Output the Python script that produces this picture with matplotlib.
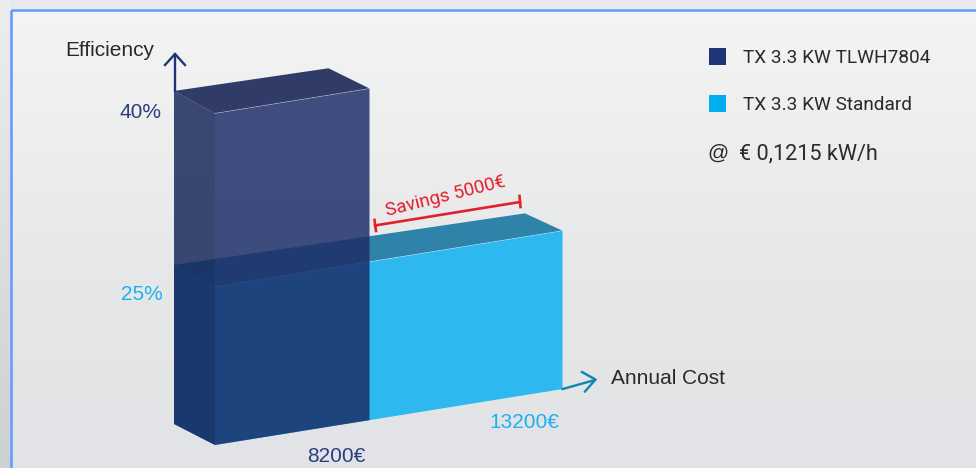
# -*- coding: utf-8 -*-
import numpy as np
import matplotlib
matplotlib.use("Agg")
import matplotlib.pyplot as plt
from matplotlib.patches import Polygon, Rectangle

plt.rcParams['font.family'] = ['Liberation Sans', 'DejaVu Sans']
NARROW = ['Roboto', 'Liberation Sans']

# values
names = ['TX 3.3 KW TLWH7804', 'TX 3.3 KW Standard']
costs = [8200, 13200]
efficiency = [40, 25]
cost_labels = ['8200€', '13200€']
eff_labels = ['40%', '25%']

COST_START = 4174
EFF_START = 11.29


def project(cost, eff, back=False):
    # oblique drawing: cost runs along the rising floor line, efficiency goes up
    if back:
        x = np.interp(cost, [COST_START, 8200, 13200], [174, 328.5, 525])
        y = 424 - 0.147 * (x - 174)
        return x, y - (eff - EFF_START) * 11.6
    x = np.interp(cost, [COST_START, 8200, 13200], [215, 369.5, 562.5])
    y = 445 - 0.161 * (x - 215)
    return x, y - (eff - EFF_START) * 11.55


def draw_bar(ax, cost, eff, front_c, side_c, top_c, alpha=1.0, zorder=3):
    low, high = EFF_START, eff
    side = [project(COST_START, low, True), project(COST_START, high, True),
            project(COST_START, high), project(COST_START, low)]
    top = [project(COST_START, high, True), project(cost, high, True),
           project(cost, high), project(COST_START, high)]
    front = [project(COST_START, low), project(COST_START, high),
             project(cost, high), project(cost, low)]
    for pts, c in [(side, side_c), (top, top_c), (front, front_c)]:
        ax.add_patch(Polygon(pts, closed=True, fc=c, ec='none', alpha=alpha, zorder=zorder))
    # thin pale edge along the top of the front face
    ax.plot(*zip(project(COST_START, high), project(cost, high)), color='white',
            lw=0.5, alpha=0.45, zorder=zorder + 0.5)


fig = plt.figure(figsize=(9.76, 4.68), dpi=100)
ax = fig.add_axes([0, 0, 1, 1])

# page background, darker to the left, panel gradient inside the frame
outer = np.linspace(0, 1, 468).reshape(-1, 1, 1)
outer_c = (1 - outer) * np.array([0.925, 0.93, 0.935]) + outer * np.array([0.805, 0.815, 0.825])
ax.imshow(outer_c, extent=[0, 976, 468, 0], aspect='auto', zorder=0)
ax.add_patch(Rectangle((10, 0), 966, 9, fc='#E8E9EB', ec='none', zorder=0.5))
panel_y = np.linspace(0, 1, 468)
panel = np.stack([np.interp(panel_y, [0, 0.62, 1], [v0, v1, v2])
                  for v0, v1, v2 in [(0.955, 0.90, 0.885), (0.957, 0.903, 0.89), (0.957, 0.908, 0.902)]],
                 axis=1).reshape(-1, 1, 3)
ax.imshow(panel, extent=[10, 980, 470, 9], aspect='auto', zorder=1)
ax.add_patch(Rectangle((10.5, 9.5), 1000, 500, fc='none', ec='#5B9BFF', lw=1.8, zorder=2))

ax.set_xlim(0, 976)
ax.set_ylim(468, 0)
ax.axis('off')

# standard unit behind, efficient unit see-through in front
draw_bar(ax, costs[1], efficiency[1], '#2DB8EF', '#2E8DD4', '#2F82A8')
draw_bar(ax, costs[0], efficiency[0], '#1C2D68', '#16265A', '#0A174D', alpha=0.836, zorder=4)

# axis arrows
ax_x, ax_y = project(COST_START, efficiency[0], True)
ax.plot([ax_x + 1, ax_x + 1], [ax_y, 54], color='#1F3575', lw=1.7, zorder=5)
ax.plot([165, ax_x + 1, 185], [65, 54, 65], color='#1F3575', lw=1.7, zorder=5)
end_x, end_y = project(costs[1], EFF_START)
ax.plot([end_x, 595], [end_y, 380], color='#0E86B5', lw=1.7, zorder=5)
ax.plot([582, 595.5, 585], [372, 379.5, 391.5], color='#0E86B5', lw=1.7, zorder=5)

# savings bracket
RED = '#E2202C'
ax.plot([375, 520], [225.5, 202], color=RED, lw=1.9, zorder=5)
ax.plot([374.5, 376], [220, 231], color=RED, lw=1.9, zorder=5)
ax.plot([519.5, 520.5], [196, 207], color=RED, lw=1.9, zorder=5)
ax.text(445, 196.5, 'Savings 5000€', color=RED, fontsize=13.6, family=NARROW, rotation=14,
        rotation_mode='anchor', ha='center', va='center', zorder=6)

DARK = '#2A2A2A'
NAVY = '#2B3F80'
CYAN = '#1CB1F0'
ax.text(65, 50.5, 'Efficiency', color=DARK, fontsize=15, ha='left', va='center', zorder=6)
ax.text(611, 379, 'Annual Cost', color=DARK, fontsize=15, ha='left', va='center', zorder=6)
ax.text(162, 113, eff_labels[0], color=NAVY, fontsize=15, ha='right', va='center', zorder=6)
ax.text(163, 295, eff_labels[1], color=CYAN, fontsize=15, ha='right', va='center', zorder=6)
ax.text(336, 457, cost_labels[0], color=NAVY, fontsize=15, ha='center', va='center', zorder=6)
ax.text(524, 423, cost_labels[1], color=CYAN, fontsize=15, ha='center', va='center', zorder=6)

# legend
for y, c, name in zip([48, 95], ['#1F3575', '#00AEEF'], names):
    ax.add_patch(Rectangle((709, y), 17, 17, fc=c, ec='none', zorder=6))
    ax.text(743, y + 10, name, color=DARK, fontsize=13.7, family=NARROW, ha='left', va='center', zorder=6)
ax.text(707, 153, '@', color=DARK, fontsize=15, ha='left', va='center', zorder=6)
ax.text(739, 154, '€ 0,1215 kW/h', color=DARK, fontsize=15.6, family=NARROW, ha='left', va='center', zorder=6)

fig.savefig('out.png', dpi=100)
